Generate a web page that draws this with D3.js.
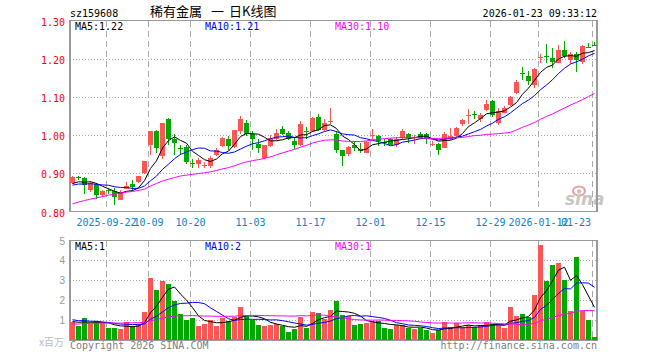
<!DOCTYPE html>
<html>
<head>
<meta charset="utf-8">
<script src="https://cdn.jsdelivr.net/npm/d3@7"></script>
<style>
  body { margin: 0; background: #fff; }
  text { font-family: "DejaVu Sans Mono", "Liberation Mono", monospace; font-size: 10px; }
</style>
</head>
<body>
<div id="chart"></div>
<script>
// trading days shown (2025-09-12 .. 2026-01-23)
const dates = [
  '2025-09-12','2025-09-15','2025-09-16','2025-09-17','2025-09-18','2025-09-19',
  '2025-09-22','2025-09-23','2025-09-24','2025-09-25','2025-09-26','2025-09-29','2025-09-30',
  '2025-10-09','2025-10-10','2025-10-13','2025-10-14','2025-10-15','2025-10-16','2025-10-17',
  '2025-10-20','2025-10-21','2025-10-22','2025-10-23','2025-10-24','2025-10-27','2025-10-28','2025-10-29','2025-10-30','2025-10-31',
  '2025-11-03','2025-11-04','2025-11-05','2025-11-06','2025-11-07','2025-11-10','2025-11-11','2025-11-12','2025-11-13','2025-11-14',
  '2025-11-17','2025-11-18','2025-11-19','2025-11-20','2025-11-21','2025-11-24','2025-11-25','2025-11-26','2025-11-27','2025-11-28',
  '2025-12-01','2025-12-02','2025-12-03','2025-12-04','2025-12-05','2025-12-08','2025-12-09','2025-12-10','2025-12-11','2025-12-12',
  '2025-12-15','2025-12-16','2025-12-17','2025-12-18','2025-12-19','2025-12-22','2025-12-23','2025-12-24','2025-12-25','2025-12-26',
  '2025-12-29','2025-12-30','2025-12-31','2026-01-05','2026-01-06','2026-01-07','2026-01-08','2026-01-09',
  '2026-01-12','2026-01-13','2026-01-14','2026-01-15','2026-01-16','2026-01-19','2026-01-20','2026-01-21','2026-01-22','2026-01-23'
];

const open = [
  0.875,0.890,0.889,0.857,0.873,0.842,0.856,0.853,0.831,0.860,0.871,0.876,0.900,0.973,1.011,0.945,1.041,0.990,0.966,0.970,
  0.926,0.924,0.922,0.918,0.949,0.971,0.991,0.969,1.011,1.032,1.002,0.977,0.939,0.971,0.989,1.017,1.006,0.984,0.975,1.010,
  1.011,1.048,1.013,1.035,1.002,0.960,0.951,0.973,0.964,0.954,0.998,0.997,0.983,0.989,0.973,0.993,1.004,0.995,1.002,1.002,
  0.976,0.978,0.967,0.989,0.997,1.028,1.051,1.055,1.041,1.065,1.089,1.031,1.059,1.079,1.110,1.163,1.154,1.132,1.203,1.206,
  1.202,1.190,1.223,1.197,1.212,1.192,1.231,1.237
];
const high = [
  0.892,0.894,0.891,0.879,0.874,0.857,0.862,0.861,0.855,0.876,0.883,0.894,0.932,1.011,1.013,1.032,1.044,1.004,0.975,0.975,
  0.938,0.940,0.929,0.945,0.965,0.996,0.997,1.014,1.050,1.039,1.011,0.990,0.975,0.999,1.015,1.025,1.010,0.995,1.037,1.022,
  1.048,1.054,1.041,1.072,1.011,0.962,0.972,0.984,0.980,0.985,1.017,1.000,0.990,0.993,0.994,1.015,1.006,0.999,1.009,1.006,
  0.984,0.980,1.008,1.019,1.021,1.042,1.068,1.063,1.057,1.091,1.091,1.071,1.077,1.103,1.145,1.177,1.169,1.175,1.213,1.239,
  1.227,1.236,1.247,1.218,1.218,1.236,1.242,1.244
];
const low = [
  0.873,0.882,0.846,0.850,0.832,0.838,0.846,0.816,0.829,0.858,0.853,0.874,0.898,0.949,0.954,0.938,0.975,0.949,0.949,0.925,
  0.914,0.914,0.914,0.914,0.946,0.968,0.962,0.966,1.002,0.998,0.962,0.952,0.937,0.969,0.987,0.999,0.988,0.963,0.972,0.990,
  1.008,1.010,1.010,1.030,0.954,0.920,0.944,0.958,0.954,0.952,0.988,0.972,0.971,0.973,0.970,0.991,0.980,0.976,0.990,0.976,
  0.972,0.949,0.965,0.987,0.995,1.025,1.028,1.041,1.033,1.063,1.048,1.026,1.057,1.077,1.108,1.145,1.132,1.122,1.190,1.190,
  1.175,1.188,1.201,1.186,1.165,1.186,1.227,1.235
];
const close = [
  0.890,0.889,0.869,0.875,0.844,0.854,0.855,0.837,0.850,0.868,0.863,0.892,0.931,1.010,0.967,1.031,0.990,0.979,0.964,0.930,
  0.925,0.936,0.923,0.941,0.962,0.993,0.971,1.013,1.041,1.004,0.989,0.965,0.973,0.993,1.006,1.002,0.991,0.975,1.028,1.009,
  1.044,1.013,1.032,1.036,0.961,0.945,0.968,0.965,0.959,0.982,0.999,0.984,0.982,0.975,0.991,1.011,0.993,0.996,0.993,0.993,
  0.977,0.962,1.004,0.997,1.019,1.039,1.052,1.054,1.052,1.082,1.052,1.062,1.070,1.101,1.140,1.162,1.142,1.173,1.204,1.205,
  1.192,1.223,1.208,1.212,1.197,1.232,1.230,1.236
];
// volume, millions
const volume = [
  0.88,0.70,1.10,0.82,0.97,0.83,0.60,0.60,0.55,0.88,0.70,0.78,1.40,3.10,2.50,2.97,2.80,1.95,1.30,1.00,
  1.10,0.72,0.80,1.00,0.72,1.12,0.95,1.18,1.67,1.20,1.02,0.75,0.70,0.77,0.78,0.70,0.40,0.55,1.18,0.60,
  1.40,1.35,1.08,1.50,1.97,1.25,1.23,0.75,0.80,0.85,0.95,0.95,0.60,0.55,0.75,0.75,0.60,0.55,0.60,0.50,
  0.35,0.50,0.88,0.65,0.83,0.65,0.75,0.65,0.75,0.88,0.80,0.80,0.60,1.65,1.20,1.30,1.15,2.25,4.75,2.95,
  3.75,3.85,3.00,1.45,4.15,1.45,1.00,0.15
];
// estimated history before the first visible day (feeds the moving averages)
const histClose = [
  0.748,0.752,0.755,0.752,0.745,0.750,0.752,0.775,0.792,0.804,0.815,0.828,0.770,0.760,0.840,
  0.850,0.850,0.840,0.860,0.870,0.860,0.870,0.865,0.860,0.870,0.865,0.875,0.868,0.867
];
const histVolume = [
  0.55,0.60,0.50,0.62,0.58,0.55,0.65,0.60,0.58,0.62,0.58,0.70,0.75,0.85,0.80,
  0.90,0.78,0.82,0.92,0.85,1.20,1.05,1.15,1.00,1.15,0.90,1.00,0.92,0.95
];

const tickDates = ['2025-09-22','2025-10-09','2025-10-20','2025-11-03','2025-11-17','2025-12-01','2025-12-15','2025-12-29','2026-01-12','2026-01-23'];
const tickLabels = ['2025-09-22','10-09','10-20','11-03','11-17','12-01','12-15','12-29','2026-01-12','01-23'];
const priceTicks = [0.8, 0.9, 1.0, 1.1, 1.2, 1.3];
const volTicks = [1, 2, 3, 4, 5];

const RED = '#ff5555', GREEN = '#00a800', GRID = '#aaa', BORDER = '#999';

const svg = d3.select('#chart').append('svg').attr('width', 660).attr('height', 360);

const left = 70, right = 597;
const x = d3.scaleBand().domain(dates).range([left, left + dates.length * 6]);
const cx = (d) => x(d) + 2.5;
const gx = (d) => x(d) + 0.5;

const y = d3.scaleLinear().domain([0.8, 1.3]).range([211.5, 20.5]);
const yv = d3.scaleLinear().domain([0, 5]).range([340, 240.5]);

function movingAvg(hist, vals, n) {
  const all = hist.concat(vals);
  return vals.map((v, i) => d3.mean(all.slice(i + hist.length - n + 1, i + hist.length + 1)));
}
const trunc = (v, k) => Math.floor(v * Math.pow(10, k)) / Math.pow(10, k);

const idx = d3.range(dates.length);
const colorOf = (i) => (close[i] >= open[i] ? RED : GREEN);

// ---------- header ----------
svg.append('text').attr('x', 70).attr('y', 16.5).text('sz159608');
svg.append('text').attr('y', 16).style('font-family', '"Noto Sans CJK SC", sans-serif').style('font-size', '13px')
  .call((t) => {
    t.append('tspan').attr('x', 150).text('稀有金属');
    t.append('tspan').attr('x', 211).text('一');
    t.append('tspan').attr('x', 229).text('日K线图');
  });
svg.append('text').attr('x', 597).attr('y', 16.5).attr('text-anchor', 'end').text('2026-01-23 09:33:12');

// ---------- panel frames + grids ----------
function panel(top, bottom, hLines) {
  const g = svg.append('g').attr('shape-rendering', 'crispEdges');
  g.selectAll('.h').data(hLines).join('line')
    .attr('x1', left).attr('x2', right).attr('y1', (d) => d).attr('y2', (d) => d)
    .attr('stroke', GRID).attr('stroke-dasharray', '1,2');
  g.selectAll('.v').data(tickDates).join('line')
    .attr('x1', gx).attr('x2', gx).attr('y1', top).attr('y2', bottom)
    .attr('stroke', GRID).attr('stroke-dasharray', '6,4');
  g.append('rect').attr('x', left).attr('y', top).attr('width', right - left).attr('height', bottom - top)
    .attr('fill', 'none').attr('stroke', BORDER).attr('stroke-width', 1.5);
}
panel(20.5, 211.5, priceTicks.slice(1, -1).map((t) => Math.round(y(t)) + 0.5));
panel(240.5, 340, volTicks.slice(0, -1).map((t) => Math.round(yv(t)) + 0.5));

// ---------- price axis ----------
svg.append('g').attr('transform', `translate(${left},0)`)
  .call(d3.axisLeft(y).tickValues(priceTicks).tickFormat(d3.format('.2f')).tickSize(0).tickPadding(5))
  .call((g) => g.select('.domain').remove())
  .selectAll('text').attr('fill', '#f00').attr('dy', '0.45em')
  .style('font-family', '"DejaVu Sans Mono", monospace').style('font-size', '10px');

// date labels
const dl = svg.append('g').selectAll('text').data(tickDates).join('text')
  .attr('x', gx).attr('y', 225.5).attr('text-anchor', 'middle').attr('fill', '#0a84d0')
  .text((d, i) => tickLabels[i]);
dl.each(function (d) {
  const w = this.getComputedTextLength();
  if (gx(d) + w / 2 > right - 6) d3.select(this).attr('x', right - 6 - w / 2);
});

// ---------- candles ----------
const gc = svg.append('g').attr('shape-rendering', 'crispEdges');
gc.selectAll('line').data(idx).join('line')
  .attr('x1', (i) => cx(dates[i])).attr('x2', (i) => cx(dates[i]))
  .attr('y1', (i) => Math.round(y(high[i]))).attr('y2', (i) => Math.round(y(low[i])))
  .attr('stroke', colorOf);
gc.selectAll('rect').data(idx).join('rect')
  .attr('x', (i) => x(dates[i])).attr('width', x.bandwidth() - 1)
  .attr('y', (i) => Math.round(y(Math.max(open[i], close[i]))))
  .attr('height', (i) => Math.max(1, Math.round(y(Math.min(open[i], close[i]))) - Math.round(y(Math.max(open[i], close[i])))))
  .attr('fill', colorOf);

// ---------- price MAs ----------
const maDefs = [
  { n: 5, color: '#000', label: 'MA5', lx: 75 },
  { n: 10, color: '#00f', label: 'MA10', lx: 205 },
  { n: 30, color: '#f0f', label: 'MA30', lx: 335 },
];
maDefs.forEach((m) => {
  const vals = movingAvg(histClose, close, m.n);
  svg.append('path').datum(vals)
    .attr('fill', 'none').attr('stroke', m.color).attr('stroke-width', 1)
    .attr('d', d3.line().x((v, i) => cx(dates[i])).y((v) => y(v)));
  svg.append('text').attr('x', m.lx).attr('y', 29.5).attr('fill', m.color)
    .text(`${m.label}:${trunc(vals[vals.length - 1], 2).toFixed(2)}`);
});

// ---------- volume ----------
svg.append('g').attr('shape-rendering', 'crispEdges')
  .selectAll('rect').data(idx).join('rect')
  .attr('x', (i) => x(dates[i])).attr('width', x.bandwidth() - 1)
  .attr('y', (i) => Math.round(yv(volume[i])))
  .attr('height', (i) => 340 - Math.round(yv(volume[i])))
  .attr('fill', colorOf);

maDefs.forEach((m) => {
  const vals = movingAvg(histVolume, volume, m.n);
  svg.append('path').datum(vals)
    .attr('fill', 'none').attr('stroke', m.color).attr('stroke-width', 1)
    .attr('d', d3.line().x((v, i) => cx(dates[i])).y((v) => yv(v)));
  svg.append('text').attr('x', m.lx).attr('y', 250).attr('fill', m.color)
    .text(`${m.label}:${Math.floor(vals[vals.length - 1])}`);
});

svg.append('g').attr('transform', `translate(${left},0)`)
  .call(d3.axisLeft(yv).tickValues(volTicks).tickFormat(d3.format('d')).tickSize(0).tickPadding(5))
  .call((g) => g.select('.domain').remove())
  .selectAll('text').attr('fill', '#999').attr('dy', '0.35em')
  .style('font-family', '"Liberation Sans", Arial, sans-serif').style('font-size', '10px');

svg.append('text').attr('x', 64).attr('y', 346).attr('text-anchor', 'end').attr('fill', '#bbb')
  .style('font-family', '"Noto Sans CJK SC", sans-serif').style('font-size', '10px').text('x百万');

// ---------- footer + watermark ----------
svg.append('text').attr('x', 70).attr('y', 348.5).attr('fill', '#808080').text('Copyright 2026 SINA.COM');
svg.append('text').attr('x', 597).attr('y', 348.5).attr('text-anchor', 'end').attr('fill', '#808080').text('http://finance.sina.com.cn');

const wm = svg.append('g').attr('opacity', 0.55);
wm.append('ellipse').attr('cx', 579).attr('cy', 191).attr('rx', 6).attr('ry', 4.5).attr('fill', 'none').attr('stroke', '#e05050').attr('stroke-width', 2);
wm.append('circle').attr('cx', 579).attr('cy', 191.5).attr('r', 2).attr('fill', '#e05050');
wm.append('text').attr('x', 565).attr('y', 205).attr('fill', '#999')
  .style('font-family', '"DejaVu Sans", sans-serif').style('font-size', '17px').style('font-style', 'italic').style('font-weight', 'bold')
  .text('sina');
</script>
</body>
</html>
